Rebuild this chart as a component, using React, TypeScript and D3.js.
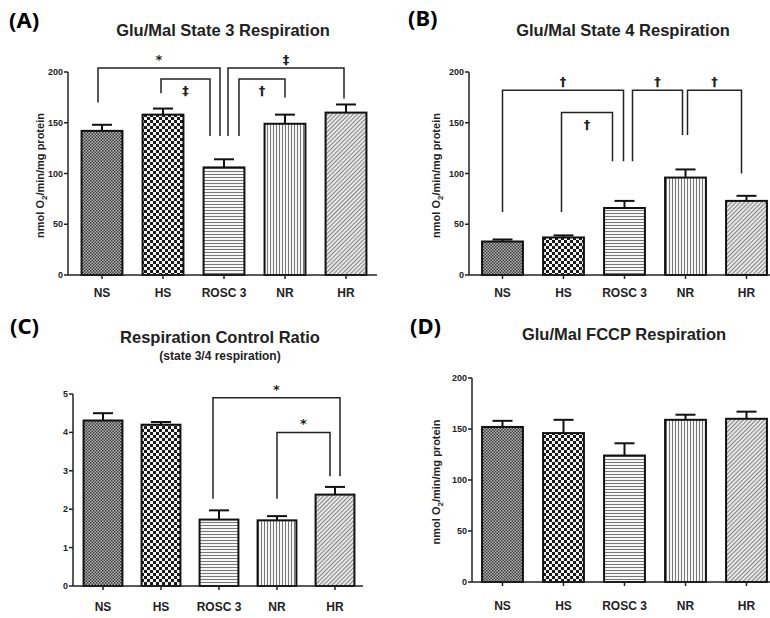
import React, { useEffect, useRef } from 'react';
import * as d3 from 'd3';

const groups = ['NS', 'HS', 'ROSC 3', 'NR', 'HR'];

// mean and SEM
const state3Mean = [142, 158, 106, 149, 160];
const state3Sem = [6, 6, 8, 9, 8];
const state4Mean = [33, 37, 66, 96, 73];
const state4Sem = [2, 2, 7, 8, 5];
const rcrMean = [4.31, 4.2, 1.73, 1.71, 2.38];
const rcrSem = [0.19, 0.07, 0.24, 0.11, 0.2];
const fccpMean = [152, 146, 124, 159, 160];
const fccpSem = [6, 13, 12, 5, 7];

const flowTicks = [0, 50, 100, 150, 200];
const rcrTicks = [0, 1, 2, 3, 4, 5];

// significance brackets: from bar, to bar, mark, bracket level, leg ends (data units)
const state3Sig = [
  { a: 0, b: 2, mark: '*', top: 204, legA: 170, legB: 137, above: true },
  { a: 1, b: 2, mark: '‡', top: 193, legA: 179, legB: 137, above: false },
  { a: 2, b: 4, mark: '‡', top: 204, legA: 137, legB: 174, above: true },
  { a: 2, b: 3, mark: '†', top: 193, legA: 137, legB: 175, above: false },
];
const state4Sig = [
  { a: 0, b: 2, mark: '†', top: 182, legA: 62, legB: 112, above: true },
  { a: 1, b: 2, mark: '†', top: 160, legA: 62, legB: 112, above: false },
  { a: 2, b: 3, mark: '†', top: 182, legA: 112, legB: 138, above: true },
  { a: 3, b: 4, mark: '†', top: 182, legA: 138, legB: 100, above: true },
];
const rcrSig = [
  { a: 2, b: 4, mark: '*', top: 4.9, legA: 2.27, legB: 2.86, above: true },
  { a: 3, b: 4, mark: '*', top: 4.0, legA: 2.27, legB: 2.86, above: true },
];
// small horizontal nudges of bracket ends so nested brackets don't touch
const state3Nudge = [[-4, -4], [-2, -14], [4, -2], [15, 0]];
const state4Nudge = [[0, -1], [-2, -12], [8, -3], [2, -5]];
const rcrNudge = [[-6, 5], [0, -5]];

const patterns = ['pNS', 'pHS', 'pROSC', 'pNR', 'pHR'];
const FONT = '"Liberation Sans", Arial, sans-serif';
const MARK_FONT = '"DejaVu Sans", "Liberation Sans", sans-serif';

function drawPanel(svg, opt) {
  const g = svg.append('g');
  const x = d3.scaleBand()
    .domain(groups)
    .range(opt.xRange)
    .paddingInner(0.33)
    .paddingOuter(0.165);
  const y = d3.scaleLinear().domain([0, opt.max]).range(opt.yRange);

  // panel letter & title
  g.append('text')
    .attr('x', opt.letterPos[0]).attr('y', opt.letterPos[1])
    .attr('font-family', '"Noto Sans", "Open Sans", sans-serif')
    .attr('font-weight', 700).attr('font-size', 22)
    .text(opt.letter);
  g.append('text')
    .attr('x', opt.titlePos[0]).attr('y', opt.titlePos[1])
    .attr('text-anchor', 'middle')
    .attr('font-family', FONT).attr('font-weight', 700).attr('font-size', opt.titleSize)
    .attr('fill', '#222')
    .text(opt.title);
  if (opt.subtitle) {
    g.append('text')
      .attr('x', opt.titlePos[0]).attr('y', opt.titlePos[1] + 17)
      .attr('text-anchor', 'middle')
      .attr('font-family', FONT).attr('font-weight', 700).attr('font-size', 12)
      .attr('fill', '#222')
      .text(opt.subtitle);
  }

  // bars
  g.selectAll('.bar')
    .data(opt.mean)
    .enter().append('rect')
    .attr('x', (d, i) => x(groups[i]))
    .attr('y', d => y(d))
    .attr('width', x.bandwidth())
    .attr('height', d => y(0) - y(d))
    .attr('fill', (d, i) => `url(#${patterns[i]})`)
    .attr('stroke', '#111')
    .attr('stroke-width', 2);

  // error bars (upper only)
  const cx = i => x(groups[i]) + x.bandwidth() / 2;
  opt.mean.forEach((m, i) => {
    const top = y(m + opt.sem[i]);
    g.append('line')
      .attr('x1', cx(i)).attr('x2', cx(i))
      .attr('y1', y(m)).attr('y2', top)
      .attr('stroke', '#111').attr('stroke-width', 2);
    g.append('line')
      .attr('x1', cx(i) - 10).attr('x2', cx(i) + 10)
      .attr('y1', top).attr('y2', top)
      .attr('stroke', '#111').attr('stroke-width', 2);
  });

  // axes
  const ax = opt.axisX;
  g.append('line')
    .attr('x1', ax).attr('x2', ax)
    .attr('y1', y(0)).attr('y2', y(opt.max))
    .attr('stroke', '#222').attr('stroke-width', 1.5);
  g.append('line')
    .attr('x1', ax).attr('x2', opt.axisEnd)
    .attr('y1', y(0)).attr('y2', y(0))
    .attr('stroke', '#222').attr('stroke-width', 1.5);
  opt.ticks.forEach(t => {
    g.append('line')
      .attr('x1', ax - 4).attr('x2', ax)
      .attr('y1', y(t)).attr('y2', y(t))
      .attr('stroke', '#222').attr('stroke-width', 1.5);
    g.append('text')
      .attr('x', ax - 5).attr('y', y(t) + 3)
      .attr('text-anchor', 'end')
      .attr('font-family', FONT).attr('font-weight', 700).attr('font-size', 9)
      .attr('fill', '#222')
      .text(t);
  });
  groups.forEach((c, i) => {
    g.append('line')
      .attr('x1', cx(i)).attr('x2', cx(i))
      .attr('y1', y(0)).attr('y2', y(0) + 4)
      .attr('stroke', '#222').attr('stroke-width', 1.5);
    g.append('text')
      .attr('x', cx(i)).attr('y', y(0) + opt.labelDy)
      .attr('text-anchor', 'middle')
      .attr('font-family', FONT).attr('font-weight', 700).attr('font-size', 12)
      .attr('fill', '#222')
      .text(c);
  });

  if (opt.yLabel) {
    const ly = (y(0) + y(opt.max)) / 2 + 2;
    const t = g.append('text')
      .attr('transform', `translate(${opt.yLabelX},${ly}) rotate(-90)`)
      .attr('text-anchor', 'middle')
      .attr('font-family', FONT).attr('font-weight', 700).attr('font-size', 11)
      .attr('fill', '#222');
    t.append('tspan').text('nmol O');
    t.append('tspan').attr('font-size', 8).attr('dy', 3).text('2');
    t.append('tspan').attr('dy', -3).text('/min/mg protein');
  }

  // significance brackets
  (opt.sig || []).forEach((s, k) => {
    const xa = cx(s.a) + opt.nudge[k][0];
    const xb = cx(s.b) + opt.nudge[k][1];
    const yt = y(s.top);
    const path = d3.path();
    path.moveTo(xa, y(s.legA));
    path.lineTo(xa, yt);
    path.lineTo(xb, yt);
    path.lineTo(xb, y(s.legB));
    g.append('path')
      .attr('d', path.toString())
      .attr('fill', 'none')
      .attr('stroke', '#222').attr('stroke-width', 1.5);
    g.append('text')
      .attr('x', (xa + xb) / 2)
      .attr('y', s.above ? yt - 4 : yt + 16)
      .attr('text-anchor', 'middle')
      .attr('font-family', MARK_FONT).attr('font-weight', 700).attr('font-size', 13)
      .attr('fill', '#222')
      .text(s.mark);
  });
}

const App = () => {
  const svgRef = useRef(null);

  useEffect(() => {
    const svg = d3.select(svgRef.current);
    svg.selectAll('*').remove();

    // fill patterns
    const defs = svg.append('defs');
    const pNS = defs.append('pattern').attr('id', 'pNS')
      .attr('patternUnits', 'userSpaceOnUse').attr('width', 3).attr('height', 3);
    pNS.append('rect').attr('width', 3).attr('height', 3).attr('fill', '#b4b4b4');
    pNS.append('rect').attr('width', 1.5).attr('height', 1.5).attr('fill', '#3c3c3c');
    pNS.append('rect').attr('x', 1.5).attr('y', 1.5).attr('width', 1.5).attr('height', 1.5).attr('fill', '#3c3c3c');

    const pHS = defs.append('pattern').attr('id', 'pHS')
      .attr('patternUnits', 'userSpaceOnUse').attr('width', 6).attr('height', 6);
    pHS.append('rect').attr('width', 6).attr('height', 6).attr('fill', '#f4f4f4');
    pHS.append('rect').attr('width', 3).attr('height', 3).attr('fill', '#1a1a1a');
    pHS.append('rect').attr('x', 3).attr('y', 3).attr('width', 3).attr('height', 3).attr('fill', '#1a1a1a');

    const pROSC = defs.append('pattern').attr('id', 'pROSC')
      .attr('patternUnits', 'userSpaceOnUse').attr('width', 4).attr('height', 3);
    pROSC.append('rect').attr('width', 4).attr('height', 3).attr('fill', '#f6f6f6');
    pROSC.append('rect').attr('width', 4).attr('height', 1).attr('fill', '#777');

    const pNR = defs.append('pattern').attr('id', 'pNR')
      .attr('patternUnits', 'userSpaceOnUse').attr('width', 3).attr('height', 4);
    pNR.append('rect').attr('width', 3).attr('height', 4).attr('fill', '#f6f6f6');
    pNR.append('rect').attr('width', 1).attr('height', 4).attr('fill', '#777');

    const pHR = defs.append('pattern').attr('id', 'pHR')
      .attr('patternUnits', 'userSpaceOnUse').attr('width', 3).attr('height', 3)
      .attr('patternTransform', 'rotate(45)');
    pHR.append('rect').attr('width', 3).attr('height', 3).attr('fill', '#e6e6e6');
    pHR.append('rect').attr('width', 1).attr('height', 3).attr('fill', '#858585');

    drawPanel(svg, {
      letter: '(A)', letterPos: [9, 28],
      title: 'Glu/Mal State 3 Respiration', titlePos: [223, 36], titleSize: 16.5,
      mean: state3Mean, sem: state3Sem, max: 200, ticks: flowTicks,
      xRange: [71.5, 376.5], yRange: [275, 72], axisX: 68, axisEnd: 377,
      labelDy: 22, yLabel: true, yLabelX: 44,
      sig: state3Sig, nudge: state3Nudge,
    });
    drawPanel(svg, {
      letter: '(B)', letterPos: [408, 26],
      title: 'Glu/Mal State 4 Respiration', titlePos: [623, 36], titleSize: 16.5,
      mean: state4Mean, sem: state4Sem, max: 200, ticks: flowTicks,
      xRange: [472, 777], yRange: [275, 72], axisX: 469, axisEnd: 770,
      labelDy: 22, yLabel: true, yLabelX: 440,
      sig: state4Sig, nudge: state4Nudge,
    });
    drawPanel(svg, {
      letter: '(C)', letterPos: [10, 334],
      title: 'Respiration Control Ratio', titlePos: [220, 343], titleSize: 16.5,
      subtitle: '(state 3/4 respiration)',
      mean: rcrMean, sem: rcrSem, max: 5, ticks: rcrTicks,
      xRange: [74, 364], yRange: [586, 394], axisX: 73, axisEnd: 363,
      labelDy: 25, yLabel: false,
      sig: rcrSig, nudge: rcrNudge,
    });
    drawPanel(svg, {
      letter: '(D)', letterPos: [410, 334],
      title: 'Glu/Mal FCCP Respiration', titlePos: [624, 340], titleSize: 16.5,
      mean: fccpMean, sem: fccpSem, max: 200, ticks: flowTicks,
      xRange: [472, 777], yRange: [582, 378], axisX: 472, axisEnd: 770,
      labelDy: 28, yLabel: true, yLabelX: 440,
    });
  }, []);

  return (
    <svg
      ref={svgRef}
      width={770}
      height={618}
      style={{ position: 'absolute', left: 0, top: 0, background: '#fff' }}
    />
  );
};

export default App;
